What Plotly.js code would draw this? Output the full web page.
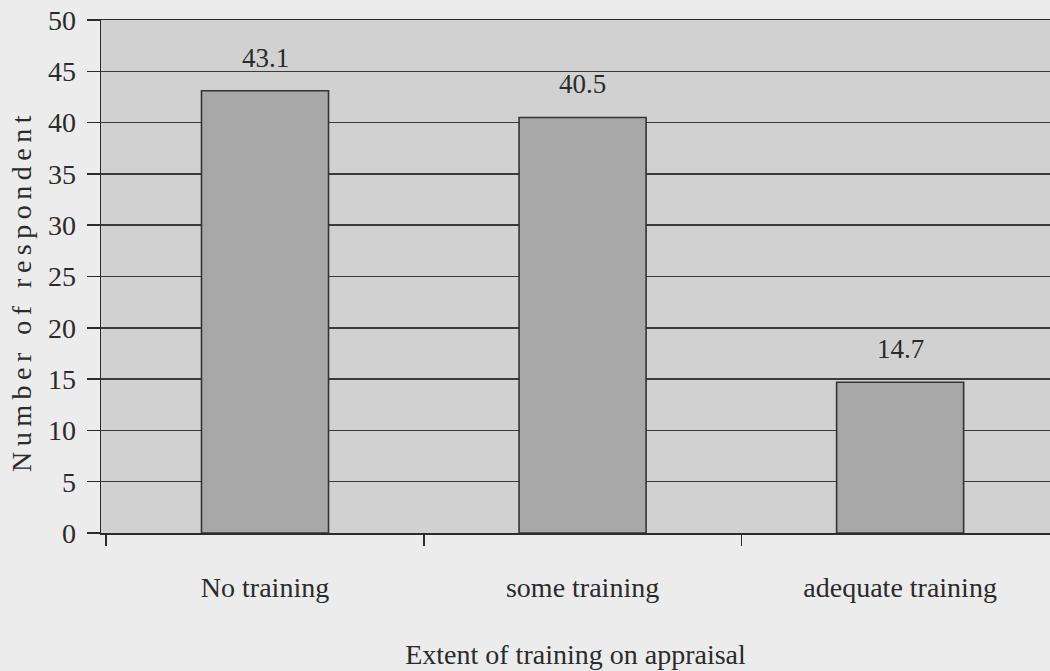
<!DOCTYPE html>
<html>
<head>
<meta charset="utf-8">
<script src="https://cdn.plot.ly/plotly-3.0.1.min.js"></script>
<style>
  html, body { margin: 0; padding: 0; background: #ececec; }
  #chart { width: 1050px; height: 671px; }
  .annotation[data-index="0"] text { letter-spacing: 5.5px; }
</style>
</head>
<body>
<div id="chart"></div>
<script>
const categories = ["No training", "some training", "adequate training"];
const values = [43.1, 40.5, 14.7];
const valueLabels = ["43.1", "40.5", "14.7"];
const yTickVals = [0, 5, 10, 15, 20, 25, 30, 35, 40, 45, 50];
const xTitle = "Extent of training on appraisal";
const yTitle = "Number of respondent";

const fontFam = "Liberation Serif";
const ink = "#2b2b2b";

const trace = {
  type: "bar",
  x: categories,
  y: values,
  width: 0.4,
  marker: { color: "#a8a8a8", line: { color: "#333333", width: 1.6 } },
  hoverinfo: "skip"
};

const annotations = [{
  xref: "paper", yref: "paper",
  x: (21 - 101) / 949, y: (533 - 291) / 513,
  xanchor: "center", yanchor: "middle",
  text: yTitle, textangle: -90, showarrow: false,
  font: { family: fontFam, size: 28, color: ink }
}];
categories.forEach((c, i) => {
  annotations.push({
    xref: "x", yref: "y", x: c, y: values[i],
    text: valueLabels[i], showarrow: false,
    xanchor: "center", yanchor: "bottom", yshift: 16,
    font: { family: fontFam, size: 27, color: ink }
  });
});

const layout = {
  width: 1050, height: 671,
  margin: { l: 101, r: 0, t: 20, b: 138 },
  paper_bgcolor: "#ececec",
  plot_bgcolor: "#d1d1d1",
  showlegend: false,
  bargap: 0.6,
  xaxis: {
    type: "category",
    range: [-0.5165, 2.472],
    tickson: "boundaries",
    ticks: "outside", ticklen: 11, tickwidth: 1.5, tickcolor: ink,
    showline: true, linecolor: ink, linewidth: 1.5, mirror: true,
    showgrid: false, zeroline: false,
    tickfont: { family: fontFam, size: 28, color: ink },
    ticklabelstandoff: 29,
    title: { text: xTitle, font: { family: fontFam, size: 28, color: ink }, standoff: 42 }
  },
  yaxis: {
    range: [0, 50],
    tickvals: yTickVals,
    ticktext: yTickVals.map(String),
    ticks: "outside", ticklen: 13, tickwidth: 1.5, tickcolor: ink,
    showline: true, linecolor: ink, linewidth: 1.5,
    showgrid: true, gridcolor: "#3a3a3a", gridwidth: 1.5,
    zeroline: false,
    tickfont: { family: fontFam, size: 28, color: ink },
    ticklabelstandoff: 5
  },
  annotations: annotations
};

Plotly.newPlot("chart", [trace], layout, { displayModeBar: false, staticPlot: true });
</script>
</body>
</html>
